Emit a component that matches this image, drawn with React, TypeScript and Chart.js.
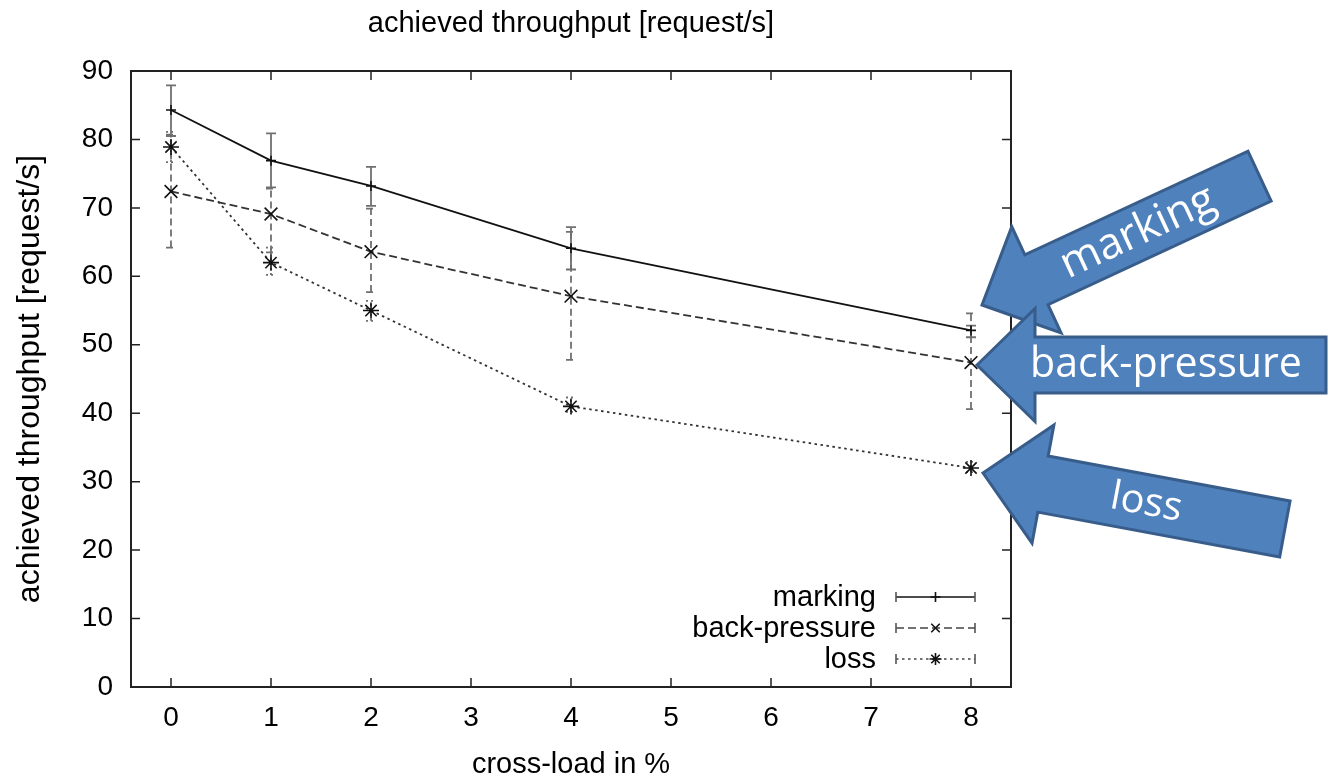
import React, { useEffect, useRef } from "react";
import { Chart, registerables } from "chart.js";

Chart.register(...registerables);

// ---------- data ----------
const xTickValues = [0, 1, 2, 3, 4, 5, 6, 7, 8];
const crossLoad = [0, 1, 2, 4, 8];

const seriesNames = ["marking", "back-pressure", "loss"];

const marking = [84.3, 76.9, 73.2, 64.1, 52.1];
const markingLow = [80.5, 73.0, 70.3, 61.0, 51.1];
const markingHigh = [87.9, 80.9, 76.0, 67.2, 52.8];

const backPressure = [72.4, 69.1, 63.6, 57.1, 47.4];
const backPressureLow = [64.2, 63.5, 57.7, 47.8, 40.6];
const backPressureHigh = [80.7, 72.8, 69.9, 66.5, 54.6];

const loss = [78.9, 62.0, 55.0, 41.0, 32.0];
const lossLow = [76.7, 60.2, 53.5, 40.2, 31.4];
const lossHigh = [81.1, 64.2, 56.4, 42.3, 32.9];

const chartTitle = "achieved throughput [request/s]";
const yTitle = "achieved throughput [request/s]";
const xTitle = "cross-load in %";

const arrowLabels = ["marking", "back-pressure", "loss"];

// ---------- styles ----------
const FONT = "'Liberation Sans', Arial, Helvetica, sans-serif";
const ARROW_FONT = "'Open Sans', 'Noto Sans', sans-serif";

const lineDash = [[], [8, 4], [2.5, 3.5]];
const barDash = [[], [7, 4], [2, 3]];
const pointStyles = ["cross", "crossRot", "star"];
const pointRadii = [5, 9, 8];

const errLow = [markingLow, backPressureLow, lossLow];
const errHigh = [markingHigh, backPressureHigh, lossHigh];
const seriesValues = [marking, backPressure, loss];

// arrows: tip position, direction (deg, tip->tail), geometry
const arrowShapes = [
  { tipX: 982, tipY: 305, angle: -24.9, length: 306, headLen: 60, headW: 117, shaftW: 55, textAt: 172, textW: 166 },
  { tipX: 977, tipY: 365, angle: 0, length: 349, headLen: 58, headW: 113, shaftW: 56, textAt: 189, textW: 272 },
  { tipX: 983, tipY: 473, angle: 10.5, length: 307, headLen: 61, headW: 120, shaftW: 57, textAt: 166, textW: 72 },
];

function drawMarker(ctx: CanvasRenderingContext2D, style: string, x: number, y: number, r: number) {
  ctx.beginPath();
  if (style === "cross" || style === "star") {
    ctx.moveTo(x - r, y);
    ctx.lineTo(x + r, y);
    ctx.moveTo(x, y - r);
    ctx.lineTo(x, y + r);
  }
  if (style === "crossRot" || style === "star") {
    const d = r * 0.7071;
    ctx.moveTo(x - d, y - d);
    ctx.lineTo(x + d, y + d);
    ctx.moveTo(x - d, y + d);
    ctx.lineTo(x + d, y - d);
  }
  ctx.stroke();
}

const framePlugin = {
  id: "frameTicks",
  beforeDatasetsDraw(chart: any) {
    const { ctx, chartArea } = chart;
    const xs = chart.scales.x;
    const ys = chart.scales.y;
    const { left, right, top, bottom } = chartArea;
    ctx.save();
    ctx.strokeStyle = "#222";
    ctx.lineWidth = 1.5;
    const tl = 9;
    ctx.beginPath();
    xTickValues.forEach((v) => {
      const px = xs.getPixelForValue(v);
      ctx.moveTo(px, bottom);
      ctx.lineTo(px, bottom - tl);
      ctx.moveTo(px, top);
      ctx.lineTo(px, top + tl);
    });
    ys.ticks.forEach((t: any) => {
      const py = ys.getPixelForValue(t.value);
      ctx.moveTo(left, py);
      ctx.lineTo(left + tl, py);
      ctx.moveTo(right, py);
      ctx.lineTo(right - tl, py);
    });
    ctx.stroke();
    ctx.lineWidth = 2;
    ctx.strokeRect(left, top, right - left, bottom - top);

    // error bars
    for (let s = 0; s < seriesValues.length; s++) {
      ctx.strokeStyle = "#707070";
      ctx.lineWidth = 1.8;
      ctx.setLineDash(barDash[s]);
      crossLoad.forEach((xv, i) => {
        const px = xs.getPixelForValue(xv);
        const yl = ys.getPixelForValue(errLow[s][i]);
        const yh = ys.getPixelForValue(errHigh[s][i]);
        ctx.beginPath();
        ctx.moveTo(px, yl);
        ctx.lineTo(px, yh);
        ctx.stroke();
        ctx.beginPath();
        ctx.moveTo(px - 5, yl);
        ctx.lineTo(px + 5, yl);
        ctx.moveTo(px - 5, yh);
        ctx.lineTo(px + 5, yh);
        ctx.stroke();
      });
    }
    ctx.restore();
  },
  afterDatasetsDraw(chart: any) {
    const { ctx, chartArea } = chart;
    const { right, bottom } = chartArea;
    ctx.save();
    ctx.font = `29px ${FONT}`;
    ctx.fillStyle = "#000";
    ctx.textAlign = "right";
    ctx.textBaseline = "middle";
    const rows = [bottom - 90, bottom - 59, bottom - 28];
    const x0 = right - 115;
    const x1 = right - 36;
    seriesNames.forEach((name, s) => {
      const y = rows[s];
      ctx.fillText(name, right - 135, y + 1);
      ctx.strokeStyle = s === 0 ? "#111" : "#444";
      ctx.lineWidth = 1.6;
      ctx.setLineDash(lineDash[s]);
      ctx.beginPath();
      ctx.moveTo(x0, y);
      ctx.lineTo(x1, y);
      ctx.stroke();
      ctx.setLineDash([]);
      ctx.strokeStyle = "#555";
      ctx.beginPath();
      ctx.moveTo(x0, y - 5);
      ctx.lineTo(x0, y + 5);
      ctx.moveTo(x1, y - 5);
      ctx.lineTo(x1, y + 5);
      ctx.stroke();
      ctx.strokeStyle = "#111";
      drawMarker(ctx, pointStyles[s], (x0 + x1) / 2, y, s === 0 ? 5 : 6);
    });
    ctx.restore();
  },
  afterDraw(chart: any) {
    const { ctx } = chart;
    arrowShapes.forEach((a, k) => {
      ctx.save();
      ctx.translate(a.tipX, a.tipY);
      ctx.rotate((a.angle * Math.PI) / 180);
      ctx.beginPath();
      ctx.moveTo(0, 0);
      ctx.lineTo(a.headLen, -a.headW / 2);
      ctx.lineTo(a.headLen, -a.shaftW / 2);
      ctx.lineTo(a.length, -a.shaftW / 2);
      ctx.lineTo(a.length, a.shaftW / 2);
      ctx.lineTo(a.headLen, a.shaftW / 2);
      ctx.lineTo(a.headLen, a.headW / 2);
      ctx.closePath();
      ctx.fillStyle = "#4f81bd";
      ctx.fill();
      ctx.lineJoin = "miter";
      ctx.lineWidth = 3;
      ctx.strokeStyle = "#385d8a";
      ctx.stroke();
      const label = arrowLabels[k];
      ctx.font = `40px ${ARROW_FONT}`;
      const w = ctx.measureText(label).width;
      const size = (40 * a.textW) / w;
      ctx.font = `${size}px ${ARROW_FONT}`;
      ctx.fillStyle = "#fff";
      ctx.textAlign = "center";
      ctx.textBaseline = "middle";
      ctx.fillText(label, a.textAt, 0);
      ctx.restore();
    });
  },
};

export default function App() {
  const canvasRef = useRef<HTMLCanvasElement | null>(null);

  useEffect(() => {
    document.body.style.margin = "0";
    document.body.style.overflow = "hidden";
    const canvas = canvasRef.current;
    if (!canvas) return;

    const datasets = seriesValues.map((vals, s) => ({
      label: seriesNames[s],
      data: crossLoad.map((x, i) => ({ x, y: vals[i] })),
      borderColor: s === 0 ? "#111" : "#333",
      borderWidth: 1.8,
      borderDash: lineDash[s],
      pointStyle: pointStyles[s],
      pointRadius: pointRadii[s],
      pointBorderColor: "#111",
      pointBackgroundColor: "#111",
      pointBorderWidth: 1.6,
      fill: false,
      tension: 0,
      clip: false as any,
    }));

    const chart = new Chart(canvas, {
      type: "line",
      data: { datasets },
      options: {
        animation: false,
        responsive: false,
        devicePixelRatio: 1,
        layout: { padding: { left: 0, right: 318, top: 0, bottom: 0 } },
        plugins: {
          legend: { display: false },
          tooltip: { enabled: false },
          title: { display: false },
        },
        scales: {
          x: {
            type: "linear",
            position: "bottom",
            min: -0.4,
            max: 8.4,
            afterBuildTicks: (s: any) => {
              s.ticks = xTickValues.map((v) => ({ value: v }));
            },
            afterFit: (s: any) => {
              s.height = 91;
            },
            ticks: {
              font: { family: FONT, size: 28 },
              color: "#000",
              padding: 14,
              autoSkip: false,
              maxRotation: 0,
              callback: (v: any) => String(v),
            },
            grid: { display: false, drawTicks: false },
            border: { display: false },
            title: {
              display: true,
              text: xTitle,
              color: "#000",
              font: { family: FONT, size: 29 },
              padding: { top: 0, bottom: -4 },
            },
          },
          x2: {
            type: "linear",
            position: "top",
            min: -0.4,
            max: 8.4,
            afterFit: (s: any) => {
              s.height = 71;
            },
            ticks: { display: false },
            grid: { display: false, drawTicks: false },
            border: { display: false },
            title: {
              display: true,
              text: chartTitle,
              color: "#000",
              font: { family: FONT, size: 29 },
              padding: { top: 7, bottom: 0 },
            },
          },
          y: {
            type: "linear",
            min: 0,
            max: 90,
            afterFit: (s: any) => {
              s.width = 131;
            },
            ticks: {
              stepSize: 10,
              font: { family: FONT, size: 28 },
              color: "#000",
              padding: 18,
            },
            grid: { display: false, drawTicks: false },
            border: { display: false },
            title: {
              display: true,
              text: yTitle,
              color: "#000",
              font: { family: FONT, size: 32 },
              padding: { top: 11, bottom: 0 },
            },
          },
        },
      } as any,
      plugins: [framePlugin],
    });

    return () => chart.destroy();
  }, []);

  return (
    <div style={{ width: 1329, height: 778 }}>
      <canvas ref={canvasRef} width={1329} height={778} style={{ display: "block" }} />
    </div>
  );
}
